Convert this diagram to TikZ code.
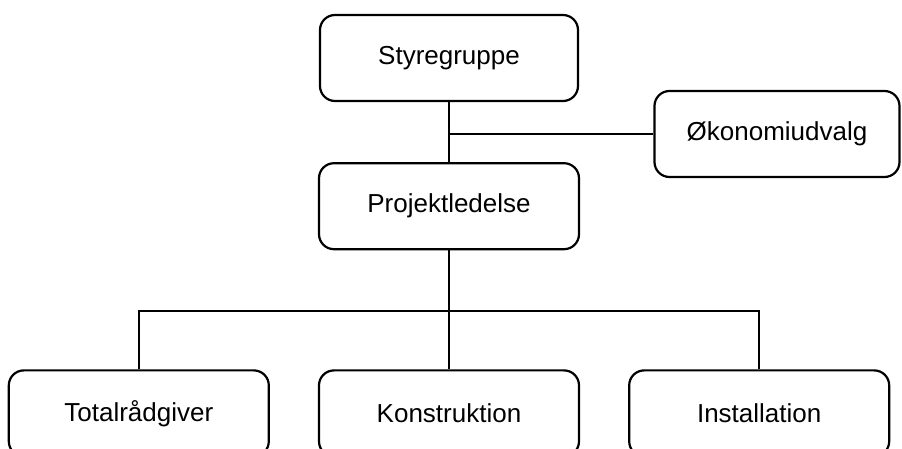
\documentclass[tikz,border=0pt]{standalone}
\usepackage{fontspec}
\setmainfont{Liberation Sans}
\usepackage{tikz}
\usetikzlibrary{positioning}
\tikzstyle{unit} = [
    rectangle,
    draw,
    line width = 1.1pt,
    text centered,
    rounded corners = 7.5pt,
    font = \fontsize{13}{15}\selectfont,
    minimum width = 130pt,
    minimum height = 43pt
]
\tikzstyle{link} = [
    line width = 1.1pt
]
\begin{document}
\begin{tikzpicture}[x = 0.5pt, y = -0.5pt]

                \useasboundingbox (0,0) rectangle (902,449);
                \clip (0,0) rectangle (902,449);

                % top
                \node [unit, minimum width = 129pt] (styr) at (449,58) {Styregruppe};
                \node [unit, below = 30pt of styr] (proj) {Projektledelse};
                \node [unit, minimum width = 122.5pt] (okon) at (777,134) {Økonomiudvalg};

                % bottom row
                \node [unit, below = 59.5pt of proj] (konst) {Konstruktion};
                \node [unit, left = 24pt of konst] (total) {Totalrådgiver};
                \node [unit, right = 24pt of konst] (inst) {Installation};

                \coordinate [below = 30.5pt of proj.south] (hub);

                \draw [link] (styr.south) -- (styr.south |- proj.north);
                \draw [link] (okon.west) -- (okon.west -| styr.south);
                \draw [link] (proj.south) -- (hub);
                \draw [link] (total.north) |- (hub) -| (inst.north);
                \draw [link] (hub) -- (hub |- konst.north);

            \end{tikzpicture}
\end{document}
